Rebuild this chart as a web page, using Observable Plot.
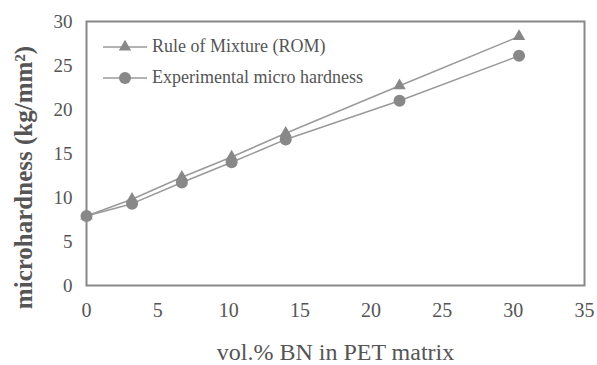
<!DOCTYPE html>
<html>
<head>
<meta charset="utf-8">
<script src="https://cdn.jsdelivr.net/npm/d3@7"></script>
<script src="https://cdn.jsdelivr.net/npm/@observablehq/plot@0.6"></script>
<style>
  html, body { margin: 0; padding: 0; background: #fff; }
  #wrap { position: relative; width: 597px; height: 365px; font-family: "Liberation Serif", serif; }
  #wrap svg text { font-family: "Liberation Serif", serif; }
  #legend { position: absolute; left: 103px; top: 31px; color: #555; font-size: 18px; line-height: 31px; font-family: "Liberation Serif", serif; }
  #legend div { display: flex; align-items: center; white-space: nowrap; }
  #legend svg { margin-right: 5px; }
</style>
</head>
<body>
<div id="wrap"></div>
<script>
// Data
const volPct = [0, 3.2, 6.7, 10.2, 14, 22, 30.4];
const romValues = [7.9, 9.8, 12.3, 14.6, 17.3, 22.7, 28.3];
const expValues = [7.9, 9.3, 11.7, 14.0, 16.6, 21.0, 26.1];
const seriesNames = ["Rule of Mixture (ROM)", "Experimental micro hardness"];
const xTicks = [0, 5, 10, 15, 20, 25, 30, 35];
const yTicks = [0, 5, 10, 15, 20, 25, 30];
const xLabel = "vol.% BN in PET matrix";
const yLabel = "microhardness (kg/mm²)";

const rom = volPct.map((x, i) => ({x, y: romValues[i]}));
const exp = volPct.map((x, i) => ({x, y: expValues[i]}));

const gray = "#888";
const lineGray = "#9a9a9a";
const textGray = "#555";
const serif = "Liberation Serif";

const chart = Plot.plot({
  width: 597,
  height: 365,
  marginLeft: 86,
  marginRight: 13,
  marginTop: 21,
  marginBottom: 80,
  style: {fontFamily: serif, background: "#fff", color: textGray},
  x: {domain: [0, 35]},
  y: {domain: [0, 30]},
  marks: [
    Plot.axisX({ticks: xTicks, tickSize: 0, tickPadding: 17, fontSize: 20, label: null, fill: textGray, fontFamily: serif}),
    Plot.axisY({ticks: yTicks, tickSize: 0, tickPadding: 14, fontSize: 19, label: null, fill: textGray, fontFamily: serif}),
    Plot.frame({stroke: gray, strokeWidth: 2}),
    Plot.line(rom, {x: "x", y: "y", stroke: lineGray, strokeWidth: 1.5}),
    Plot.line(exp, {x: "x", y: "y", stroke: lineGray, strokeWidth: 1.5}),
    Plot.dot(rom, {x: "x", y: "y", symbol: "triangle", r: 4.6, fill: gray, stroke: "none"}),
    Plot.dot(exp, {x: "x", y: "y", symbol: "circle", r: 6, fill: gray, stroke: "none"}),
    Plot.text([xLabel], {frameAnchor: "bottom", textAnchor: "middle", dy: 74, fontSize: 24, fill: textGray, fontFamily: serif, text: d => d}),
    Plot.text([yLabel], {frameAnchor: "left", textAnchor: "middle", dx: -63, dy: 24, rotate: -90, fontSize: 25, fontWeight: "bold", fill: textGray, fontFamily: serif, text: d => d})
  ]
});

const wrap = document.getElementById("wrap");
wrap.appendChild(chart);

// Legend overlay
const legend = document.createElement("div");
legend.id = "legend";
const sym = (kind) => {
  const marker = kind === "triangle"
    ? `<path d="${d3.symbol(d3.symbolTriangle, Math.PI * 4.6 * 4.6)()}" transform="translate(22,8)" fill="${gray}"/>`
    : `<circle cx="22" cy="8" r="6" fill="${gray}"/>`;
  return `<svg width="44" height="16"><line x1="0" x2="44" y1="8" y2="8" stroke="${lineGray}" stroke-width="1.5"/>${marker}</svg>`;
};
legend.innerHTML =
  `<div>${sym("triangle")}<span>${seriesNames[0]}</span></div>` +
  `<div>${sym("circle")}<span>${seriesNames[1]}</span></div>`;
wrap.appendChild(legend);
</script>
</body>
</html>
